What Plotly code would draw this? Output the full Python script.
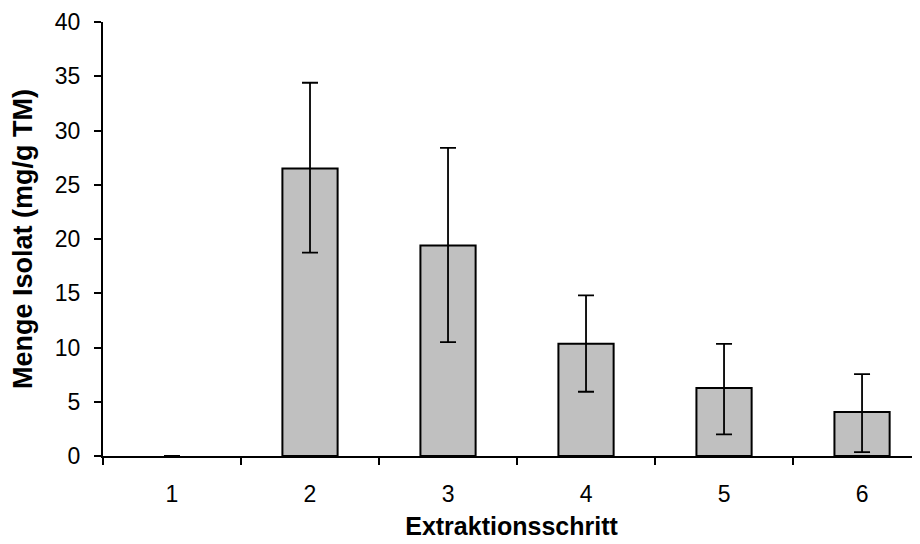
import plotly.graph_objects as go

categories = ["1", "2", "3", "4", "5", "6"]
values = [0.0, 26.5, 19.4, 10.35, 6.27, 4.05]
err_plus = [0.0, 7.9, 9.0, 4.45, 4.06, 3.5]
err_minus = [0.0, 7.75, 8.9, 4.43, 4.27, 3.7]
y_ticks = [0, 5, 10, 15, 20, 25, 30, 35, 40]

FONT = "Liberation Sans, Arial, sans-serif"

fig = go.Figure()
fig.add_trace(go.Bar(
    x=categories,
    y=values,
    width=0.4,
    marker=dict(color="#c0c0c0",
                line=dict(color="black", width=[0 if v == 0 else 2 for v in values])),
    error_y=dict(type="data", symmetric=False, array=err_plus, arrayminus=err_minus,
                 color="black", thickness=1.8, width=8),
    showlegend=False,
))

fig.update_layout(
    width=912, height=536,
    margin=dict(l=95, r=0, t=14, b=88),
    paper_bgcolor="white", plot_bgcolor="white",
    font=dict(family=FONT, color="black"),
)
fig.update_xaxes(
    type="category",
    range=[-0.5, 5.42],
    tickson="boundaries",
    ticks="outside", ticklen=7, tickwidth=2, tickcolor="black",
    showline=True, linecolor="black", linewidth=2,
    showgrid=False, zeroline=False,
    tickfont=dict(size=23, family=FONT),
    ticklabelstandoff=16,
    title=dict(text="<b>Extraktionsschritt</b>", font=dict(size=25, family=FONT), standoff=12),
    automargin=False,
)
fig.update_yaxes(
    range=[0, 40],
    tickvals=y_ticks,
    ticks="outside", ticklen=7, tickwidth=2, tickcolor="black",
    showline=True, linecolor="black", linewidth=2,
    showgrid=False, zeroline=False,
    tickfont=dict(size=23, family=FONT),
    ticklabelstandoff=9,
    title=dict(text="<b>Menge Isolat (mg/g TM)</b>", font=dict(size=27, family=FONT), standoff=20),
    automargin=False,
)

fig.write_html("out.html")
